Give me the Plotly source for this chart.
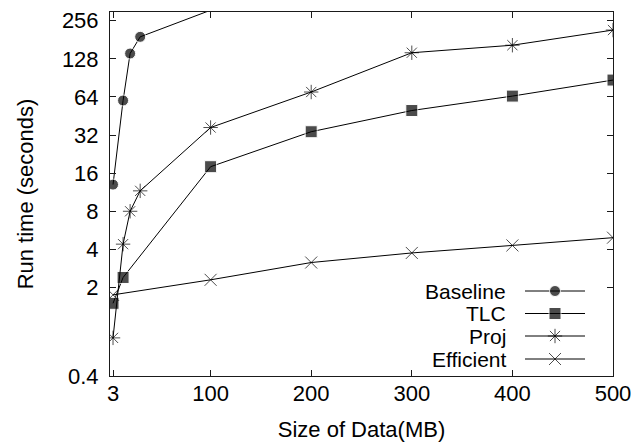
import numpy as np
import plotly.graph_objects as go

# Data (run time in seconds vs size of data in MB)
baseline_x = [3, 13, 20, 30, 100]
baseline_y = [13, 60, 141, 191, 310]

tlc_x = [3, 13, 100, 200, 300, 400, 500]
tlc_y = [1.5, 2.4, 18, 34, 50, 65, 87]

proj_x = [3, 13, 20, 30, 100, 200, 300, 400, 500]
proj_y = [0.8, 4.4, 8, 11.6, 36.7, 70, 143, 164, 216]

efficient_x = [3, 100, 200, 300, 400, 500]
efficient_y = [1.75, 2.3, 3.15, 3.75, 4.3, 4.95]

x_ticks = [3, 100, 200, 300, 400, 500]
y_ticks = [0.4, 2, 4, 8, 16, 32, 64, 128, 256]
Y_MIN, Y_MAX = 0.4, 300

FONT = "Liberation Sans, Arial, Helvetica, sans-serif"
FS = 22
FS_LEGEND = 21
INK = "#000000"
AXIS = "#1a1a1a"

SERIES = [
    ("Baseline", baseline_x, baseline_y, dict(symbol="circle", size=11, color=INK)),
    ("TLC", tlc_x, tlc_y, dict(symbol="square", size=12, color=INK)),
    ("Proj", proj_x, proj_y, dict(symbol="asterisk-open", size=12, color=INK,
                                  line=dict(color=INK, width=1))),
    ("Efficient", efficient_x, efficient_y, dict(symbol="x-thin-open", size=12, color=INK,
                                                 line=dict(color=INK, width=1))),
]

# the page body has an 8px margin, so the figure is drawn 8px in from the top-left corner
PAGE_W, PAGE_H, BODY = 644, 444, 8
W, H = PAGE_W - BODY, PAGE_H - BODY
# plot box in page pixels: x 110..613, y 12..376
BOX = (110, 613, 12, 376)
L, R, T, B = BOX[0] - BODY, PAGE_W - BOX[1], BOX[2] - BODY, PAGE_H - BOX[3]

fig = go.Figure()

for name, xs, ys, marker in SERIES:
    # like gnuplot: points outside the y range get no marker, only the clipped line
    sizes = [marker["size"] if Y_MIN <= v <= Y_MAX else 0 for v in ys]
    fig.add_trace(go.Scatter(
        x=xs, y=ys, mode="lines+markers", name=name,
        line=dict(color=INK, width=1), marker=dict(marker, size=sizes),
        showlegend=False,
    ))

# Hand-made gnuplot-style legend (label left, sample right), on an overlay axis in page pixels
leg_text_right = 507
leg_line = (525, 585)
leg_rows = [291, 313.5, 336, 359]
for (name, _, _, marker), yrow in zip(SERIES, leg_rows):
    fig.add_trace(go.Scatter(
        x=[leg_line[0], (leg_line[0] + leg_line[1]) / 2, leg_line[1]],
        y=[yrow, yrow, yrow],
        mode="lines+markers", xaxis="x2", yaxis="y2",
        line=dict(color=INK, width=1),
        marker=dict(marker, size=[0, marker["size"], 0]),
        showlegend=False, hoverinfo="skip",
    ))
    fig.add_annotation(
        x=leg_text_right, y=yrow, xref="x2", yref="y2",
        text=name, showarrow=False, xanchor="right", yanchor="middle",
        font=dict(family=FONT, size=FS_LEGEND, color=INK),
        borderpad=0,
    )

axis_common = dict(
    showline=True, linecolor=AXIS, linewidth=1, mirror="ticks",
    ticks="inside", ticklen=6, tickcolor=AXIS, tickwidth=1,
    showgrid=False, zeroline=False, automargin=False,
    tickfont=dict(family=FONT, size=FS, color=INK),
    title_font=dict(family=FONT, size=FS, color=INK),
)

fig.update_layout(
    width=W, height=H,
    margin=dict(l=L, r=R, t=T, b=B),
    paper_bgcolor="white", plot_bgcolor="white",
    xaxis=dict(
        axis_common, range=[0, 500], tickvals=x_ticks,
        ticktext=[str(v) for v in x_ticks],
        title=dict(text="Size of Data(MB)", standoff=16),
        ticklabelstandoff=-2,
    ),
    yaxis=dict(
        axis_common, type="log", range=[np.log10(Y_MIN), np.log10(Y_MAX)],
        tickvals=y_ticks, ticktext=[f"{v:g}" for v in y_ticks],
        title=dict(text="Run time (seconds)", standoff=22),
        ticklabelstandoff=6,
    ),
    xaxis2=dict(range=[BOX[0], BOX[1]], overlaying="x", visible=False, fixedrange=True),
    yaxis2=dict(range=[BOX[3], BOX[2]], overlaying="y", visible=False, fixedrange=True),
    showlegend=False,
)

fig.write_html("out.html")
